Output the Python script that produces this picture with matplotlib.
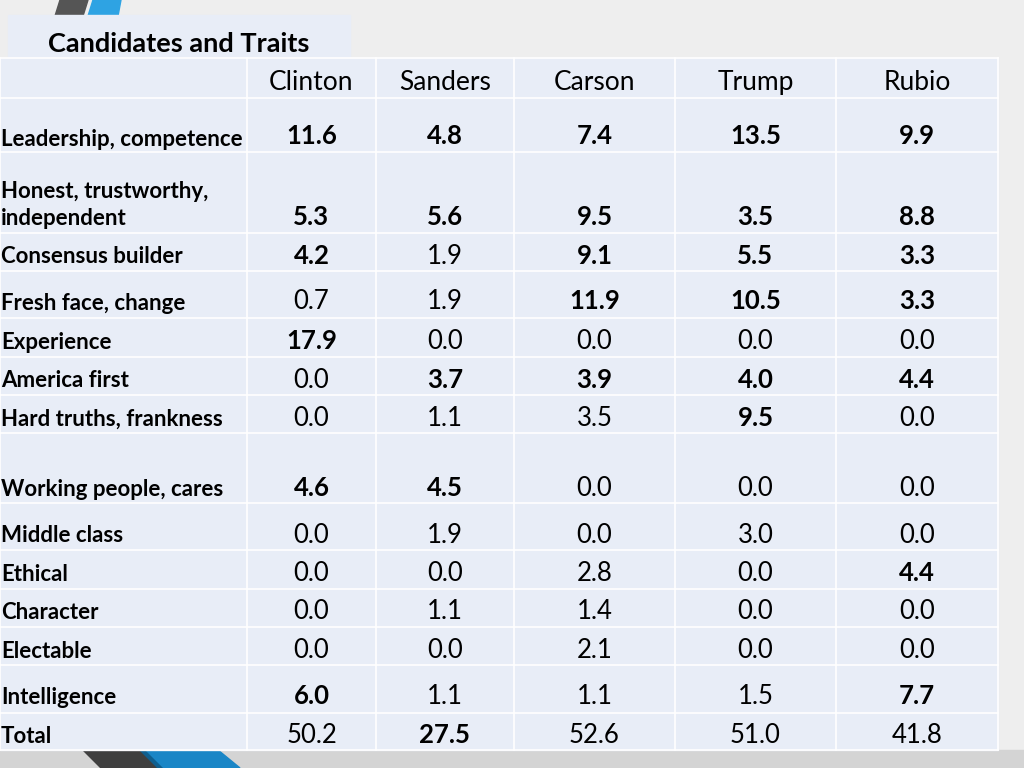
import matplotlib.pyplot as plt
from matplotlib.patches import Rectangle, Polygon

# table content
candidates = ['Clinton', 'Sanders', 'Carson', 'Trump', 'Rubio']
traits = ['Leadership, competence', 'Honest, trustworthy,\nindependent', 'Consensus builder',
          'Fresh face, change', 'Experience', 'America first', 'Hard truths, frankness',
          'Working people, cares', 'Middle class', 'Ethical', 'Character', 'Electable',
          'Intelligence', 'Total']
clinton = [11.6, 5.3, 4.2, 0.7, 17.9, 0.0, 0.0, 4.6, 0.0, 0.0, 0.0, 0.0, 6.0, 50.2]
sanders = [4.8, 5.6, 1.9, 1.9, 0.0, 3.7, 1.1, 4.5, 1.9, 0.0, 1.1, 0.0, 1.1, 27.5]
carson = [7.4, 9.5, 9.1, 11.9, 0.0, 3.9, 3.5, 0.0, 0.0, 2.8, 1.4, 2.1, 1.1, 52.6]
trump = [13.5, 3.5, 5.5, 10.5, 0.0, 4.0, 9.5, 0.0, 3.0, 0.0, 0.0, 0.0, 1.5, 51.0]
rubio = [9.9, 8.8, 3.3, 3.3, 0.0, 4.4, 0.0, 0.0, 0.0, 4.4, 0.0, 0.0, 7.7, 41.8]
# which cells are bold in the source
bold_clinton = [1, 1, 1, 0, 1, 0, 0, 1, 0, 0, 0, 0, 1, 0]
bold_sanders = [1, 1, 0, 0, 0, 1, 0, 1, 0, 0, 0, 0, 0, 1]
bold_carson = [1, 1, 1, 1, 0, 1, 0, 0, 0, 0, 0, 0, 0, 0]
bold_trump = [1, 1, 1, 1, 0, 1, 1, 0, 0, 0, 0, 0, 0, 0]
bold_rubio = [1, 1, 1, 1, 0, 1, 0, 0, 0, 1, 0, 0, 1, 0]

values = [clinton, sanders, carson, trump, rubio]
bolds = [bold_clinton, bold_sanders, bold_carson, bold_trump, bold_rubio]

# layout (pixels)
col_x = [0, 247, 376, 514, 675, 836, 998]
row_y = [58, 98, 152, 233, 271, 318, 357, 395, 433, 503, 550, 589, 627, 665, 713, 750]
label_base = [146, 225, 263, 310, 349, 387, 426, 496, 542, 581, 619, 658, 704, 743]
num_base = [144, 225, 264, 309, 349, 388, 426, 496, 543, 581, 619, 658, 704, 743]

fig = plt.figure(figsize=(10.24, 7.68), dpi=100)
fig.patch.set_facecolor('#eeeeee')
ax = fig.add_axes([0, 0, 1, 1])
ax.set_xlim(0, 1024)
ax.set_ylim(768, 0)
ax.axis('off')

cell = '#e8edf7'
# bottom band
ax.add_patch(Rectangle((0, 750), 1024, 18, color='#d4d4d4', zorder=0))
# decorations
ax.add_patch(Polygon([(60, 0), (88, 0), (83, 16), (55, 16)], color='#555555', zorder=1))
ax.add_patch(Polygon([(93, 0), (121, 0), (118, 16), (88, 16)], color='#2ea3e3', zorder=1))
ax.add_patch(Polygon([(83, 750), (140, 750), (158, 768), (101, 768)], color='#3f3f3f', zorder=1))
ax.add_patch(Polygon([(140, 750), (146, 750), (164, 768), (158, 768)], color='#0f5f8f', zorder=1))
ax.add_patch(Polygon([(146, 750), (218, 750), (240, 768), (164, 768)], color='#1a86c6', zorder=1))

# title box
ax.add_patch(Rectangle((8, 15), 342, 44, color=cell, zorder=1))
ax.text(48, 52, 'Candidates and Traits', fontsize=19.5, fontweight='bold',
        family='Lato', va='baseline', ha='left', color='black', zorder=3)

# table body
ax.add_patch(Rectangle((0, 58), 998, 692, color=cell, zorder=1))
for x in col_x:
    ax.plot([x, x], [58, 750], color='white', lw=1.2, zorder=2)
for y in row_y:
    ax.plot([0, 998], [y, y], color='white', lw=1.2, zorder=2)

# header
for j, name in enumerate(candidates):
    cx = (col_x[j + 1] + col_x[j + 2]) / 2
    ax.text(cx, 90, name, fontsize=19, family='Lato', ha='center', va='baseline', zorder=3)

# row labels
for i, t in enumerate(traits):
    lines = t.split('\n')
    for k, line in enumerate(lines):
        y = label_base[i] - 27 * (len(lines) - 1 - k)
        ax.text(1, y, line, fontsize=16, fontweight='bold', family='Lato',
                ha='left', va='baseline', zorder=3)

# numbers
for j in range(5):
    cx = (col_x[j + 1] + col_x[j + 2]) / 2
    for i, v in enumerate(values[j]):
        ax.text(cx, num_base[i], '%.1f' % v, fontsize=18.5,
                fontweight='bold' if bolds[j][i] else 'normal', family='Lato',
                ha='center', va='baseline', zorder=3)

fig.savefig('out.png', dpi=100, facecolor=fig.get_facecolor())
